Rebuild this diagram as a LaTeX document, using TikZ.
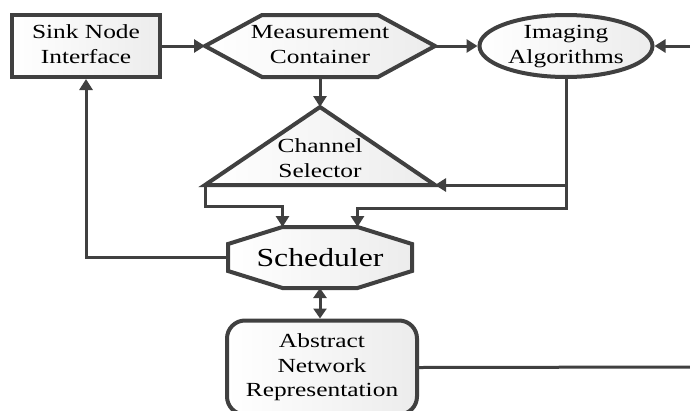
\documentclass[tikz,border=0pt]{standalone}
\usepackage{graphicx}
\usepackage{fontspec}
\setmainfont{Liberation Serif}
\usetikzlibrary{arrows.meta,calc,shapes.geometric}
\pgfdeclarelayer{bg}
\pgfsetlayers{bg,main}
\definecolor{lc}{RGB}{64,64,64}
\definecolor{shadegray}{RGB}{236,236,236}
% wide, centred multi-line text
\newcommand{\wtext}[2][1.27]{\scalebox{#1}[1]{\begin{tabular}{@{}c@{}}#2\end{tabular}}}
\tikzset{
  lbl/.style={font=\fontsize{20}{24.5}\selectfont, inner sep=0pt, text=black},
  boxfill/.style={left color=white, right color=shadegray},
  outline/.style={draw=lc, line width=4pt, boxfill},
  ghost/.style={lbl, outer sep=0pt},
  conn/.style={draw=lc, line width=3pt},
  tip/.style={-{Triangle[length=11pt,width=13pt]}},
  dtip/.style={{Triangle[length=10pt,width=13pt]}-{Triangle[length=10pt,width=13pt]}}
}
\begin{document}
\begin{tikzpicture}[x=1pt,y=-1pt]
\useasboundingbox (0,0) rectangle (690,410);

% blocks
\node[outline, lbl, rectangle, minimum width=148pt, minimum height=62pt] (sink) at (86,46) {\wtext{Sink Node\\Interface}};
\node[ghost, minimum width=230pt, minimum height=62pt] (meas) at (320,46) {\wtext{Measurement\\Container}};
\node[outline, lbl, ellipse, minimum width=173pt, minimum height=62pt] (img) at (566,46) {};
\node[lbl] (imgtxt) at (img.center) {\wtext{Imaging\\Algorithms}};
\node[ghost, minimum width=230pt, minimum height=78pt] (chan) at (320,146) {};
\node[lbl] (chantxt) at (320,160) {\wtext{Channel\\Selector}};
\node[ghost, minimum width=184pt, minimum height=61pt, font=\fontsize{26}{30}\selectfont] (sched) at (320,257.5) {\scalebox{1.22}[1]{Scheduler}};
\node[outline, lbl, rectangle, rounded corners=18pt, minimum width=190pt, minimum height=94pt] (abs) at (322,367.5) {\wtext{Abstract\\Network\\Representation}};

% outlines of the polygonal blocks
\begin{pgfonlayer}{bg}
  \path[outline] (meas.west) -- ($(meas.north)+(-58,0)$) -- ($(meas.north)+(58,0)$)
    -- (meas.east) -- ($(meas.south)+(58,0)$) -- ($(meas.south)+(-58,0)$) -- cycle;
  \path[outline] (chan.south west) -- (chan.north) -- (chan.south east) -- cycle;
  \path[outline] ($(sched.north)+(-37.5,0)$) -- ($(sched.north)+(37.5,0)$)
    -- ($(sched.east)+(0,-13.5)$) -- ($(sched.east)+(0,13.5)$)
    -- ($(sched.south)+(37.5,0)$) -- ($(sched.south)+(-37.5,0)$)
    -- ($(sched.west)+(0,13.5)$) -- ($(sched.west)+(0,-13.5)$) -- cycle;
\end{pgfonlayer}

% free ends at the right border
\coordinate (inR) at (690,46);
\coordinate (outR) at (690,367);

% connectors
\draw[conn,tip] (sink.east) -- (meas.west);
\draw[conn,tip] (meas.east) -- (img.west);
\draw[conn,tip] (inR) -- (img.east);
\draw[conn,tip] (meas.south) -- (chan.north);
\draw[conn,tip] (img.south) |- (chan.south east);
\draw[conn,tip] (img.south) -- ++(0,129) -| ($(sched.north)+(37.5,0)$);
\draw[conn,tip] (chan.south west) -- ++(0,21) -| ($(sched.north)+(-37.5,0)$);
\draw[conn,tip] (sched.west) -| (sink.south);
\draw[conn,dtip] (sched.south) -- (sched.south |- abs.north);
\draw[conn] (abs.east) -- (outR);
\end{tikzpicture}
\end{document}
